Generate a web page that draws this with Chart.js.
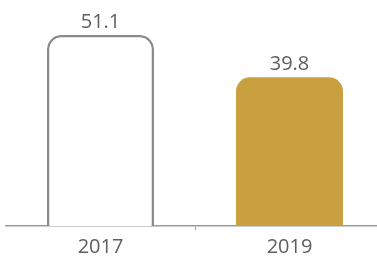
<!DOCTYPE html>
<html>
<head>
<meta charset="utf-8">
<script src="https://cdn.jsdelivr.net/npm/chart.js@4"></script>
<style>
  body { margin: 0; overflow: hidden; background: #fff; }
  #wrap { width: 377px; height: 256px; overflow: hidden; }
</style>
</head>
<body>
<div id="wrap"><canvas id="chart" width="385" height="264"></canvas></div>
<script>
// Data
const years = ['2017', '2019'];
const values = [51.1, 39.8];
const fills = ['#ffffff', '#C9A03F'];
const borders = ['#8a8a8a', '#C9A03F'];
const borderWidths = [2.5, 0];

// Value labels above each bar
const valueLabels = {
    id: 'valueLabels',
    afterDatasetsDraw(chart) {
        const ctx = chart.ctx;
        const meta = chart.getDatasetMeta(0);
        ctx.save();
        ctx.font = '20px "Open Sans"';
        ctx.fillStyle = '#5f5f5f';
        ctx.textAlign = 'center';
        ctx.textBaseline = 'alphabetic';
        meta.data.forEach((bar, i) => {
            ctx.fillText(values[i].toFixed(1), bar.x, bar.y - 7);
        });
        ctx.restore();
    }
};

new Chart(document.getElementById('chart'), {
    type: 'bar',
    data: {
        labels: years,
        datasets: [{
            data: values,
            backgroundColor: fills,
            borderColor: borders,
            borderWidth: borderWidths,
            borderSkipped: 'bottom',
            borderRadius: { topLeft: 14, topRight: 14, bottomLeft: 0, bottomRight: 0 },
            categoryPercentage: 1,
            barPercentage: 0.566
        }]
    },
    options: {
        responsive: false,
        animation: false,
        layout: { padding: { left: 6, right: 1, top: 0, bottom: 0 } },
        plugins: { legend: { display: false }, tooltip: { enabled: false } },
        scales: {
            y: { display: false, min: 0, max: 60.5 },
            x: {
                border: { color: '#9a9a9a', width: 1.5 },
                grid: {
                    drawOnChartArea: false,
                    tickLength: 4,
                    color: (c) => (c.index === 1 ? '#9a9a9a' : 'rgba(0,0,0,0)')
                },
                ticks: {
                    color: '#5f5f5f',
                    font: { family: '"Open Sans"', size: 20, lineHeight: 1.0 },
                    padding: 7
                }
            }
        }
    },
    plugins: [valueLabels]
});
</script>
</body>
</html>
